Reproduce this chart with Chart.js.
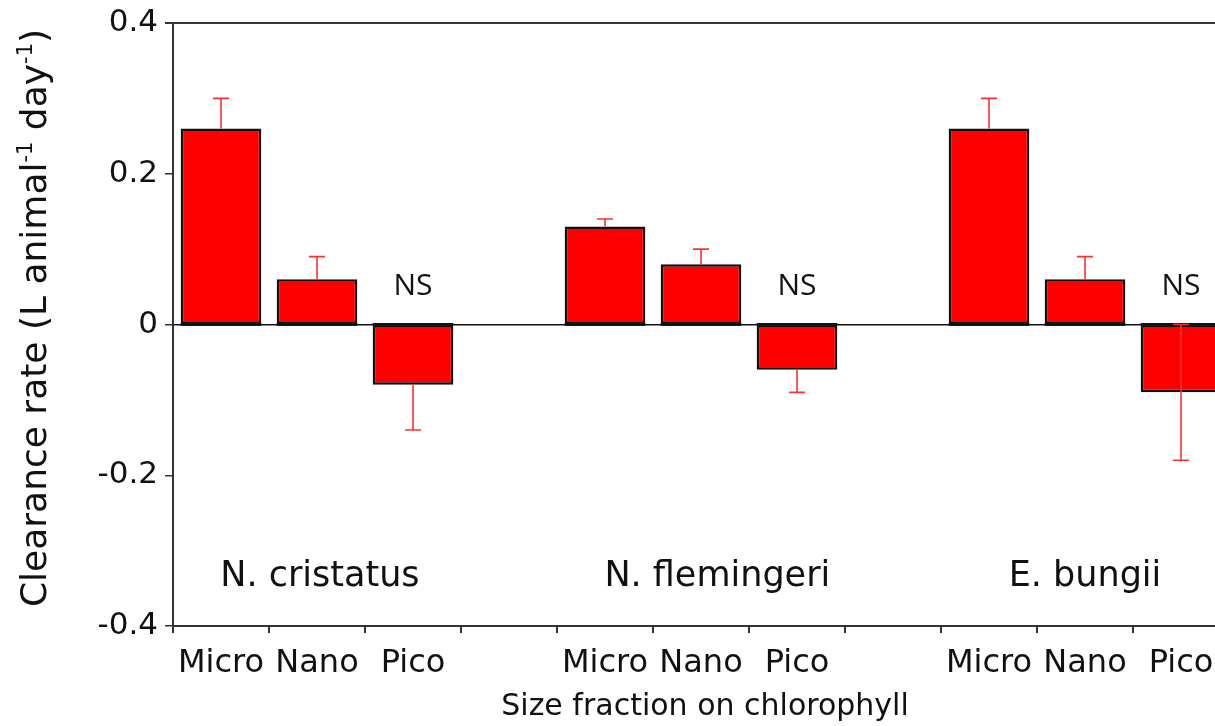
<!DOCTYPE html>
<html>
<head>
<meta charset="utf-8">
<script src="https://cdn.jsdelivr.net/npm/chart.js@4"></script>
<style>
  html, body { margin: 0; padding: 0; background: #fff; overflow: hidden; }
  #wrap { width: 1240px; height: 726px; }
</style>
</head>
<body>
<div id="wrap"><canvas id="c" width="1240" height="726"></canvas></div>
<script>
// Size fractions along the x axis, three copepod species separated by an empty slot
const sizeLabels = ['Micro', 'Nano', 'Pico', '', 'Micro', 'Nano', 'Pico', '', 'Micro', 'Nano', 'Pico'];
// Clearance rate (L animal-1 day-1)
const clearance = [0.26, 0.06, -0.08, null, 0.13, 0.08, -0.06, null, 0.26, 0.06, -0.09];
// Error bar ends above and below each bar
const errUpper = [0.30, 0.09, null, null, 0.14, 0.10, null, null, 0.30, 0.09, 0.00];
const errLower = [null, null, -0.14, null, null, null, -0.09, null, null, null, -0.18];
// Species names and the slots they sit under
const speciesNames = ['N. cristatus', 'N. flemingeri', 'E. bungii'];
const speciesSlot = [1.03, 5.17, 9.0];
const speciesLabelValue = -0.335;
// Non-significant markers
const nsSlots = [2, 6, 10];
const nsLabelValue = 0.05;
const yTicks = [-0.4, -0.2, 0, 0.2, 0.4];

const FONT = '"DejaVu Sans", sans-serif';

const annotations = {
  id: 'annotations',
  afterDatasetsDraw(chart) {
    const { ctx, chartArea, scales } = chart;
    const x = scales.x, y = scales.y;
    const meta = chart.getDatasetMeta(0);
    const yZero = y.getPixelForValue(0);

    // heavier base edge where the bars meet zero
    ctx.save();
    ctx.strokeStyle = '#111';
    ctx.lineWidth = 3;
    meta.data.forEach((bar, i) => {
      if (clearance[i] === null) return;
      ctx.beginPath();
      ctx.moveTo(bar.x - bar.width / 2, yZero);
      ctx.lineTo(bar.x + bar.width / 2, yZero);
      ctx.stroke();
    });
    ctx.restore();

    // error bars
    ctx.save();
    ctx.strokeStyle = '#ff3030';
    ctx.lineWidth = 1.6;
    const cap = 8;
    clearance.forEach((v, i) => {
      if (v === null) return;
      const cx = meta.data[i].x;
      [errUpper[i], errLower[i]].forEach(e => {
        if (e === null || e === undefined) return;
        const y0 = y.getPixelForValue(v);
        const y1 = y.getPixelForValue(e);
        ctx.beginPath();
        ctx.moveTo(cx, y0);
        ctx.lineTo(cx, y1);
        ctx.moveTo(cx - cap, y1);
        ctx.lineTo(cx + cap, y1);
        ctx.stroke();
      });
    });
    ctx.restore();

    // top frame line
    ctx.save();
    ctx.strokeStyle = '#333';
    ctx.lineWidth = 2;
    ctx.beginPath();
    ctx.moveTo(chartArea.left - 8, chartArea.top);
    ctx.lineTo(chartArea.right, chartArea.top);
    ctx.stroke();
    ctx.restore();

    // species names
    ctx.save();
    ctx.fillStyle = '#111';
    ctx.textAlign = 'center';
    ctx.textBaseline = 'middle';
    ctx.font = '35px ' + FONT;
    speciesNames.forEach((name, k) => {
      ctx.fillText(name, x.getPixelForValue(speciesSlot[k]), y.getPixelForValue(speciesLabelValue));
    });
    // NS markers
    ctx.font = '30px "Open Sans", sans-serif';
    nsSlots.forEach(s => {
      ctx.fillText('NS', x.getPixelForValue(s), y.getPixelForValue(nsLabelValue));
    });
    ctx.restore();

    // x axis title
    ctx.save();
    ctx.fillStyle = '#111';
    ctx.textAlign = 'center';
    ctx.textBaseline = 'middle';
    ctx.font = '30px ' + FONT;
    ctx.fillText('Size fraction on chlorophyll', 705, 707);
    ctx.restore();

    // y axis title with superscripts
    const parts = [
      { t: 'Clearance rate (L animal', sup: false },
      { t: '-1', sup: true },
      { t: ' day', sup: false },
      { t: '-1', sup: true },
      { t: ')', sup: false }
    ];
    const big = '36px ' + FONT, small = '21px ' + FONT;
    ctx.save();
    ctx.fillStyle = '#111';
    ctx.textBaseline = 'alphabetic';
    let total = 0;
    parts.forEach(p => { ctx.font = p.sup ? small : big; total += ctx.measureText(p.t).width; });
    ctx.translate(46, 318);
    ctx.rotate(-Math.PI / 2);
    let px = -total / 2;
    parts.forEach(p => {
      ctx.font = p.sup ? small : big;
      ctx.fillText(p.t, px, p.sup ? -14 : 0);
      px += ctx.measureText(p.t).width;
    });
    ctx.restore();
  }
};

new Chart(document.getElementById('c'), {
  type: 'bar',
  data: {
    labels: sizeLabels,
    datasets: [{
      data: clearance,
      backgroundColor: '#ff0000',
      borderColor: '#111',
      borderWidth: 2.5,
      borderSkipped: false,
      categoryPercentage: 1.0,
      barPercentage: 0.84
    }]
  },
  options: {
    responsive: false,
    animation: false,
    devicePixelRatio: 1,
    layout: { padding: { left: 0, top: 23, right: 11, bottom: 0 } },
    plugins: { legend: { display: false }, tooltip: { enabled: false } },
    scales: {
      x: {
        offset: true,
        grid: { offset: true, drawOnChartArea: false, tickLength: 7, color: '#333', lineWidth: 2 },
        border: { display: true, color: '#333', width: 2 },
        ticks: { color: '#111', font: { family: FONT, size: 32 }, padding: 11, maxRotation: 0, autoSkip: false },
        afterFit(s) { s.height = 100; }
      },
      y: {
        min: -0.4,
        max: 0.4,
        afterBuildTicks(s) { s.ticks = yTicks.map(v => ({ value: v })); },
        grid: {
          color: c => (c.tick && c.tick.value === 0 ? '#111' : 'rgba(0,0,0,0)'),
          tickColor: '#333',
          lineWidth: 1.5,
          tickLength: 8
        },
        border: { display: true, color: '#333', width: 2 },
        ticks: {
          color: '#111',
          font: { family: FONT, size: 31, lineHeight: 1 },
          padding: 7,
          callback: v => (v === 0 ? '0' : String(Math.round(v * 10) / 10))
        },
        afterFit(s) { s.width = 173; }
      }
    }
  },
  plugins: [annotations]
});
</script>
</body>
</html>
